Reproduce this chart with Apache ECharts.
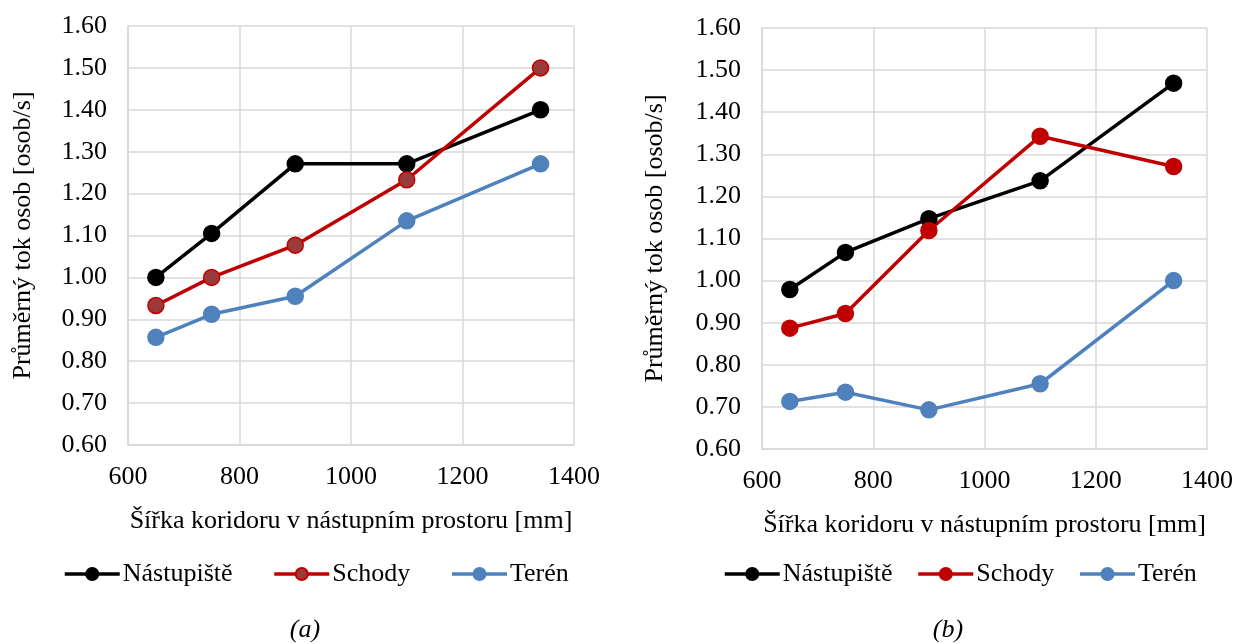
<!DOCTYPE html>
<html>
<head>
<meta charset="utf-8">
<script src="https://cdn.jsdelivr.net/npm/echarts@6/dist/echarts.min.js"></script>
<style>
  html, body { margin: 0; padding: 0; background: #fff; }
  #chart { width: 1236px; height: 644px; }
</style>
</head>
<body>
<div id="chart"></div>
<script>
// corridor widths [mm]
var widths = [650, 750, 900, 1100, 1340];

// (a)
var aNastupiste = [1.000, 1.105, 1.271, 1.271, 1.400];
var aSchody = [0.933, 1.000, 1.077, 1.233, 1.500];
var aTeren = [0.857, 0.912, 0.955, 1.135, 1.271];

// (b)
var bNastupiste = [0.979, 1.067, 1.147, 1.237, 1.469];
var bSchody = [0.887, 0.922, 1.119, 1.343, 1.271];
var bTeren = [0.713, 0.735, 0.693, 0.755, 1.000];

var seriesNames = ['Nástupiště', 'Schody', 'Terén'];
var xTitle = 'Šířka koridoru v nástupním prostoru [mm]';
var yTitle = 'Průměrný tok osob [osob/s]';

var font = '"Liberation Serif", "Times New Roman", serif';
var fs = 26;
var gridColor = '#D9D9D9';

function pairs(vals) {
    return widths.map(function(w, i) { return [w, vals[i]]; });
}

function xAxisFor(idx) {
    return {
        type: 'value', gridIndex: idx, min: 600, max: 1400, interval: 200,
        name: xTitle, nameLocation: 'middle', nameGap: 63,
        nameTextStyle: { fontFamily: font, fontSize: fs, color: '#000' },
        axisLine: { show: true, lineStyle: { color: gridColor, width: 1.5 } },
        axisTick: { show: false },
        axisLabel: {
            fontFamily: font, fontSize: fs, color: '#000', margin: 19,
            formatter: function(v) { return String(v); }
        },
        splitLine: { show: true, lineStyle: { color: gridColor, width: 1.5 } }
    };
}

function yAxisFor(idx, gap) {
    return {
        type: 'value', gridIndex: idx, min: 0.6, max: 1.6, interval: 0.1,
        name: yTitle, nameLocation: 'middle', nameGap: gap,
        nameTextStyle: { fontFamily: font, fontSize: fs, color: '#000' },
        axisLine: { show: true, lineStyle: { color: gridColor, width: 1.5 } },
        axisTick: { show: false },
        axisLabel: {
            fontFamily: font, fontSize: fs, color: '#000', margin: 21,
            formatter: function(v) { return v.toFixed(2); }
        },
        splitLine: { show: true, lineStyle: { color: gridColor, width: 1.5 } }
    };
}

function lineSeries(name, idx, vals, lineColor, fill, border) {
    return {
        name: name, type: 'line', xAxisIndex: idx, yAxisIndex: idx,
        data: pairs(vals),
        symbol: 'circle', symbolSize: 16,
        lineStyle: { color: lineColor, width: 3.5 },
        itemStyle: { color: fill, borderColor: border, borderWidth: 1.5 },
        z: 3
    };
}

var legendText = { fontFamily: font, fontSize: fs, color: '#000', padding: [0, 0, 0, -2] };

var chart = echarts.init(document.getElementById('chart'));

var option = {
    backgroundColor: '#fff',
    animation: false,
    title: [
        { text: '(a)', left: 300, top: 612, textAlign: 'center',
          textStyle: { fontFamily: font, fontSize: fs, fontStyle: 'italic', fontWeight: 'normal', color: '#000' } },
        { text: '(b)', left: 943, top: 612, textAlign: 'center',
          textStyle: { fontFamily: font, fontSize: fs, fontStyle: 'italic', fontWeight: 'normal', color: '#000' } }
    ],
    legend: [{
        left: 58, top: 556, width: 560, itemWidth: 55, itemHeight: 15, itemGap: 40,
        lineStyle: { width: 3.5 },
        textStyle: legendText,
        data: seriesNames
    }, {
        left: 718, top: 556, width: 560, itemWidth: 55, itemHeight: 15, itemGap: 24,
        lineStyle: { width: 3.5 },
        textStyle: legendText,
        data: [
            { name: 'Nástupiště' },
            { name: 'Schody', itemStyle: { color: '#C00000', borderColor: '#C00000' } },
            { name: 'Terén' }
        ]
    }],
    grid: [
        { left: 128, top: 26, width: 446, height: 419 },
        { left: 762, top: 28, width: 447, height: 421 }
    ],
    xAxis: [xAxisFor(0), xAxisFor(1)],
    yAxis: [yAxisFor(0, 92), yAxisFor(1, 94)],
    series: [
        lineSeries('Nástupiště', 0, aNastupiste, '#000000', '#000000', '#000000'),
        lineSeries('Schody', 0, aSchody, '#C00000', '#9A3A3A', '#C00000'),
        lineSeries('Terén', 0, aTeren, '#4F81BD', '#4F81BD', '#4F81BD'),
        lineSeries('Nástupiště', 1, bNastupiste, '#000000', '#000000', '#000000'),
        lineSeries('Schody', 1, bSchody, '#C00000', '#C00000', '#C00000'),
        lineSeries('Terén', 1, bTeren, '#4F81BD', '#4F81BD', '#4F81BD')
    ]
};

chart.setOption(option);
</script>
</body>
</html>
